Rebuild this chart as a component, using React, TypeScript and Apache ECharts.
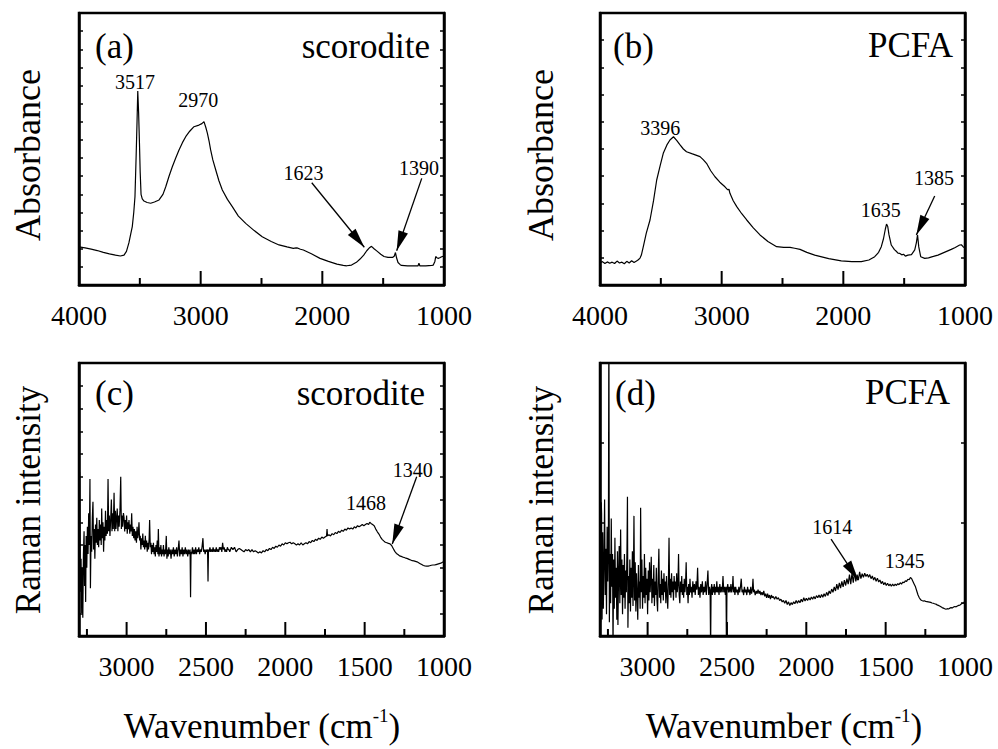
import React, { useEffect, useRef } from 'react';
import * as echarts from 'echarts';

const FONT = 'Liberation Serif';

// ---------------- axis ticks ----------------
const ftirMajorTicks = [4000, 3000, 2000, 1000];
const ftirMinorTicks = [3500, 2500, 1500];
const ramanMajorTicks = [3000, 2500, 2000, 1500, 1000];
const ramanMinorTicks = [3250, 2750, 2250, 1750, 1250];
const ramanPcfaYTicks = [0.121, 0.414, 0.707];

// ---------------- (a) FTIR scorodite: [wavenumber, absorbance a.u.] ----------------
const ftirScorodite: [number, number][] = [
  [4000, 0.21], [3950, 0.205], [3900, 0.198], [3850, 0.19], [3800, 0.18], [3750, 0.172], [3700, 0.165],
  [3660, 0.16], [3630, 0.165], [3610, 0.185], [3590, 0.232], [3575, 0.28], [3562, 0.322], [3550, 0.40],
  [3540, 0.487], [3530, 0.72], [3523, 0.90], [3517, 1.07], [3510, 0.95], [3503, 0.78], [3497, 0.62],
  [3490, 0.50], [3480, 0.475], [3466, 0.463], [3440, 0.455], [3411, 0.451], [3380, 0.458], [3342, 0.469],
  [3310, 0.50], [3287, 0.542], [3260, 0.60], [3233, 0.652], [3205, 0.70], [3178, 0.745], [3150, 0.785],
  [3123, 0.818], [3090, 0.848], [3055, 0.873], [3014, 0.882], [2990, 0.89], [2973, 0.901], [2958, 0.87],
  [2945, 0.838], [2930, 0.79], [2918, 0.745], [2900, 0.69], [2876, 0.634], [2850, 0.575], [2822, 0.524],
  [2780, 0.472], [2740, 0.432], [2690, 0.38], [2630, 0.34], [2560, 0.30], [2494, 0.266], [2420, 0.24],
  [2356, 0.221], [2290, 0.21], [2239, 0.202], [2215, 0.205], [2200, 0.203], [2180, 0.197], [2156, 0.193],
  [2090, 0.172], [2019, 0.147], [1950, 0.13], [1880, 0.115], [1828, 0.108], [1800, 0.106], [1760, 0.11],
  [1720, 0.125], [1690, 0.143], [1660, 0.165], [1635, 0.189], [1610, 0.207], [1596, 0.213], [1575, 0.2],
  [1553, 0.188], [1520, 0.17], [1493, 0.157], [1460, 0.152], [1423, 0.152], [1408, 0.16], [1399, 0.179],
  [1390, 0.15], [1378, 0.124], [1360, 0.112], [1349, 0.108], [1300, 0.106], [1250, 0.105], [1214, 0.105],
  [1206, 0.12], [1198, 0.105], [1150, 0.106], [1100, 0.108], [1088, 0.11], [1075, 0.13], [1068, 0.157],
  [1058, 0.15], [1047, 0.147], [1035, 0.15], [1019, 0.156], [1000, 0.16],
];
const ftirScoroditePeaks: [string, number, number][] = [
  ['3517', 3540, 1.12], ['2970', 3020, 1.02], ['1623', 2155, 0.616], ['1390', 1205, 0.644],
];
const ftirScoroditeArrows: [number, number, number, number][] = [
  [2087, 0.564, 1655, 0.208], [1183, 0.588, 1389, 0.189],
];

// ---------------- (b) FTIR PCFA ----------------
const ftirPcfa: [number, number][] = [
  [4000, 0.082], [3980, 0.086], [3960, 0.079], [3940, 0.085], [3920, 0.080], [3900, 0.084], [3880, 0.079],
  [3860, 0.088], [3840, 0.081], [3820, 0.084], [3800, 0.078], [3780, 0.087], [3760, 0.081], [3740, 0.089],
  [3720, 0.083], [3700, 0.088], [3685, 0.093], [3671, 0.099], [3660, 0.11], [3644, 0.141], [3620, 0.19],
  [3589, 0.239], [3560, 0.31], [3534, 0.386], [3505, 0.44], [3480, 0.484], [3450, 0.515], [3425, 0.533],
  [3396, 0.545], [3370, 0.532], [3342, 0.515], [3315, 0.50], [3289, 0.49], [3240, 0.482], [3178, 0.472],
  [3150, 0.46], [3121, 0.445], [3090, 0.42], [3055, 0.398], [3015, 0.378], [2973, 0.361], [2950, 0.35],
  [2940, 0.352], [2932, 0.337], [2905, 0.31], [2876, 0.288], [2835, 0.262], [2794, 0.239], [2740, 0.21],
  [2685, 0.184], [2620, 0.16], [2548, 0.141], [2490, 0.138], [2438, 0.138], [2400, 0.135], [2356, 0.131],
  [2300, 0.12], [2235, 0.11], [2120, 0.097], [2017, 0.089], [1930, 0.086], [1852, 0.086], [1790, 0.092],
  [1742, 0.104], [1710, 0.12], [1688, 0.141], [1670, 0.17], [1655, 0.205], [1645, 0.224], [1635, 0.215],
  [1625, 0.185], [1606, 0.147], [1580, 0.13], [1565, 0.124], [1551, 0.117], [1535, 0.116], [1520, 0.111],
  [1505, 0.113], [1490, 0.106], [1469, 0.11], [1440, 0.112], [1413, 0.129], [1400, 0.155], [1390, 0.184],
  [1380, 0.14], [1364, 0.104], [1331, 0.098], [1300, 0.1], [1260, 0.105], [1222, 0.11], [1170, 0.12],
  [1113, 0.131], [1080, 0.138], [1044, 0.147], [1030, 0.148], [1016, 0.141], [1000, 0.136],
];
const ftirPcfaPeaks: [string, number, number][] = [
  ['3396', 3505, 0.576], ['1635', 1693, 0.276], ['1385', 1255, 0.392],
];
const ftirPcfaArrows: [number, number, number, number][] = [[1249, 0.327, 1400, 0.184]];

// ---------------- (c) Raman scorodite ----------------
const ramanScorodite: [number, number][] = [
  [3300, 0.60], [3296, 0.72], [3293, 0.38], [3290, 0.20], [3287, 0.34], [3283, 0.10], [3280, 0.30],
  [3276, 0.08], [3272, 0.36], [3268, 0.46], [3265, 0.22], [3262, 0.40], [3258, 0.15], [3255, 0.44],
  [3251, 0.30], [3247, 0.48], [3243, 0.36], [3239, 0.54], [3235, 0.40], [3231, 0.69], [3228, 0.21],
  [3224, 0.44], [3220, 0.37], [3216, 0.52], [3212, 0.59], [3208, 0.38], [3204, 0.47], [3200, 0.34],
  [3196, 0.49], [3192, 0.41], [3188, 0.52], [3184, 0.40], [3180, 0.47], [3176, 0.39], [3172, 0.51],
  [3168, 0.42], [3164, 0.49], [3160, 0.40], [3157, 0.56], [3153, 0.43], [3149, 0.50], [3145, 0.37],
  [3141, 0.48], [3137, 0.42], [3133, 0.55], [3129, 0.44], [3125, 0.51], [3121, 0.45], [3117, 0.69],
  [3113, 0.46], [3109, 0.53], [3105, 0.44], [3100, 0.52], [3096, 0.60], [3092, 0.46], [3088, 0.54],
  [3084, 0.47], [3079, 0.63], [3075, 0.46], [3071, 0.55], [3067, 0.47], [3063, 0.52], [3059, 0.56],
  [3055, 0.46], [3051, 0.53], [3047, 0.48], [3042, 0.55], [3037, 0.70], [3033, 0.47], [3029, 0.53],
  [3025, 0.48], [3020, 0.54], [3016, 0.52], [3012, 0.46], [3008, 0.51], [3004, 0.47], [3000, 0.53],
  [2996, 0.45], [2992, 0.50], [2988, 0.47], [2985, 0.51], [2980, 0.45], [2976, 0.49], [2972, 0.46],
  [2968, 0.54], [2964, 0.44], [2960, 0.48], [2955, 0.43], [2951, 0.47], [2947, 0.42], [2943, 0.46],
  [2938, 0.41], [2934, 0.48], [2930, 0.43], [2926, 0.45], [2922, 0.50], [2918, 0.42], [2914, 0.44],
  [2910, 0.38], [2906, 0.43], [2902, 0.40], [2898, 0.45], [2894, 0.39], [2890, 0.42], [2886, 0.38],
  [2882, 0.44], [2878, 0.39], [2874, 0.42], [2870, 0.37], [2866, 0.41], [2862, 0.38], [2858, 0.43],
  [2855, 0.51], [2851, 0.39], [2847, 0.41], [2843, 0.36], [2839, 0.40], [2835, 0.37], [2831, 0.41],
  [2827, 0.36], [2823, 0.39], [2819, 0.35], [2815, 0.40], [2811, 0.37], [2807, 0.42], [2803, 0.36],
  [2800, 0.47], [2796, 0.35], [2792, 0.39], [2788, 0.36], [2784, 0.40], [2780, 0.35], [2776, 0.38],
  [2772, 0.36], [2768, 0.40], [2764, 0.35], [2760, 0.38], [2755, 0.36], [2750, 0.44], [2746, 0.34],
  [2742, 0.38], [2738, 0.35], [2734, 0.39], [2730, 0.36], [2725, 0.38], [2720, 0.34], [2715, 0.38],
  [2710, 0.36], [2705, 0.39], [2700, 0.35], [2695, 0.38], [2690, 0.36], [2685, 0.39], [2680, 0.35],
  [2675, 0.38], [2670, 0.42], [2665, 0.35], [2660, 0.38], [2655, 0.36], [2650, 0.39], [2645, 0.35],
  [2640, 0.38], [2635, 0.36], [2630, 0.39], [2625, 0.36], [2620, 0.38], [2615, 0.35], [2610, 0.38],
  [2605, 0.36], [2600, 0.38], [2597, 0.17], [2594, 0.37], [2590, 0.36], [2585, 0.39], [2580, 0.36],
  [2575, 0.38], [2570, 0.36], [2565, 0.39], [2560, 0.36], [2555, 0.38], [2550, 0.37], [2545, 0.39],
  [2540, 0.36], [2535, 0.38], [2530, 0.37], [2525, 0.39], [2519, 0.43], [2515, 0.37], [2510, 0.38],
  [2505, 0.36], [2500, 0.38], [2495, 0.37], [2490, 0.38], [2487, 0.24], [2484, 0.38], [2480, 0.37],
  [2475, 0.39], [2470, 0.37], [2465, 0.38], [2460, 0.37], [2455, 0.39], [2450, 0.37], [2445, 0.38],
  [2440, 0.37], [2435, 0.39], [2430, 0.37], [2425, 0.38], [2420, 0.37], [2415, 0.39], [2410, 0.38],
  [2405, 0.39], [2400, 0.37], [2395, 0.41], [2390, 0.38], [2385, 0.39], [2380, 0.37], [2375, 0.38],
  [2370, 0.37], [2365, 0.39], [2360, 0.38], [2355, 0.38], [2350, 0.37], [2340, 0.39], [2330, 0.38],
  [2320, 0.39], [2310, 0.37], [2300, 0.38], [2290, 0.385], [2280, 0.38], [2270, 0.375], [2260, 0.37],
  [2250, 0.38], [2240, 0.375], [2230, 0.38], [2220, 0.37], [2210, 0.38], [2200, 0.37], [2190, 0.375],
  [2180, 0.37], [2170, 0.365], [2160, 0.37], [2150, 0.365], [2140, 0.375], [2130, 0.37], [2120, 0.38],
  [2110, 0.375], [2100, 0.385], [2090, 0.38], [2080, 0.39], [2070, 0.385], [2060, 0.395], [2050, 0.39],
  [2040, 0.40], [2030, 0.395], [2020, 0.405], [2010, 0.40], [2000, 0.41], [1990, 0.405], [1980, 0.41],
  [1970, 0.412], [1960, 0.405], [1950, 0.41], [1940, 0.405], [1930, 0.40], [1920, 0.405], [1910, 0.40],
  [1900, 0.41], [1890, 0.40], [1880, 0.405], [1870, 0.41], [1860, 0.405], [1850, 0.415], [1840, 0.41],
  [1830, 0.42], [1820, 0.415], [1810, 0.425], [1800, 0.42], [1790, 0.43], [1780, 0.425], [1770, 0.435],
  [1760, 0.43], [1750, 0.435], [1740, 0.44], [1737, 0.47], [1734, 0.44], [1725, 0.445], [1715, 0.44],
  [1705, 0.45], [1695, 0.445], [1685, 0.455], [1675, 0.45], [1665, 0.46], [1655, 0.455], [1645, 0.465],
  [1635, 0.46], [1625, 0.47], [1615, 0.465], [1605, 0.475], [1595, 0.47], [1585, 0.475], [1575, 0.47],
  [1565, 0.48], [1555, 0.475], [1545, 0.485], [1535, 0.48], [1525, 0.485], [1515, 0.49], [1505, 0.485],
  [1495, 0.49], [1485, 0.495], [1475, 0.49], [1468, 0.50], [1460, 0.495], [1450, 0.49], [1440, 0.485],
  [1430, 0.47], [1420, 0.458], [1410, 0.448], [1400, 0.435], [1390, 0.425], [1380, 0.418], [1370, 0.412],
  [1360, 0.41], [1350, 0.407], [1340, 0.405], [1330, 0.398], [1320, 0.385], [1310, 0.372], [1300, 0.363],
  [1290, 0.358], [1280, 0.352], [1270, 0.35], [1260, 0.347], [1250, 0.345], [1240, 0.342], [1230, 0.34],
  [1220, 0.337], [1210, 0.334], [1200, 0.331], [1190, 0.33], [1180, 0.328], [1170, 0.326], [1160, 0.322],
  [1150, 0.318], [1140, 0.314], [1130, 0.31], [1120, 0.308], [1110, 0.307], [1100, 0.307], [1090, 0.309],
  [1080, 0.311], [1070, 0.312], [1060, 0.312], [1050, 0.314], [1040, 0.316], [1030, 0.318], [1020, 0.32],
  [1010, 0.324], [1000, 0.327],
];
const ramanScoroditePeaks: [string, number, number][] = [['1468', 1492, 0.583], ['1340', 1197, 0.73]];
const ramanScoroditeArrows: [number, number, number, number][] = [[1172, 0.7, 1326, 0.404]];

// ---------------- (d) Raman PCFA ----------------
const ramanPcfa: [number, number][] = [
  [3300, 0.30], [3296, 0.05], [3292, 0.49], [3290, 0.45], [3287, 0.06], [3283, 0.38], [3279, 0.10],
  [3275, 0.27], [3271, 0.50], [3267, 0.15], [3263, 0.32], [3259, 0.08], [3255, 0.40], [3251, 0.20],
  [3247, 0.35], [3244, 1.20], [3241, 0.05], [3237, 0.30], [3233, 0.12], [3229, 0.43], [3225, 0.18],
  [3221, 0.30], [3218, -0.05], [3214, 0.28], [3210, 0.10], [3206, 0.36], [3202, 0.14], [3198, 0.25],
  [3194, 0.06], [3190, 0.31], [3187, 0.04], [3183, 0.22], [3179, 0.33], [3175, 0.12], [3170, 0.39],
  [3166, 0.15], [3162, 0.28], [3158, 0.08], [3154, 0.26], [3150, 0.14], [3146, 0.30], [3142, 0.10],
  [3138, 0.24], [3134, 0.16], [3130, 0.32], [3127, 0.51], [3124, 0.03], [3120, 0.22], [3116, 0.12],
  [3112, 0.28], [3108, 0.09], [3104, 0.25], [3100, 0.14], [3096, 0.31], [3092, 0.11], [3089, 0.24],
  [3086, 0.44], [3082, 0.13], [3078, 0.27], [3074, 0.09], [3070, 0.23], [3066, 0.15], [3062, 0.06],
  [3058, 0.26], [3054, 0.14], [3050, 0.20], [3047, 0.10], [3044, 0.47], [3040, 0.16], [3036, 0.28],
  [3032, 0.10], [3028, 0.22], [3024, 0.14], [3020, 0.30], [3016, 0.12], [3012, 0.25], [3008, 0.15],
  [3004, 0.21], [3000, 0.08], [2996, 0.24], [2992, 0.13], [2988, 0.27], [2984, 0.16], [2980, 0.22],
  [2977, 0.29], [2973, 0.12], [2969, 0.21], [2965, 0.14], [2961, 0.26], [2957, 0.11], [2953, 0.20],
  [2949, 0.15], [2945, 0.25], [2941, 0.13], [2937, 0.09], [2933, 0.22], [2929, 0.32], [2925, 0.14],
  [2921, 0.19], [2917, 0.12], [2913, 0.24], [2909, 0.15], [2905, 0.21], [2901, 0.13], [2897, 0.23],
  [2893, 0.16], [2889, 0.20], [2885, 0.12], [2881, 0.22], [2877, 0.15], [2873, 0.10], [2869, 0.20],
  [2865, 0.36], [2861, 0.15], [2857, 0.21], [2853, 0.14], [2849, 0.23], [2845, 0.16], [2841, 0.20],
  [2837, 0.13], [2833, 0.22], [2829, 0.17], [2825, 0.20], [2821, 0.14], [2817, 0.23], [2813, 0.16],
  [2809, 0.19], [2805, 0.30], [2801, 0.15], [2797, 0.12], [2793, 0.20], [2789, 0.16], [2785, 0.22],
  [2781, 0.15], [2777, 0.19], [2773, 0.14], [2769, 0.21], [2765, 0.16], [2761, 0.19], [2757, 0.27],
  [2753, 0.15], [2749, 0.18], [2745, 0.12], [2741, 0.19], [2737, 0.15], [2733, 0.21], [2729, 0.16],
  [2725, 0.18], [2720, 0.14], [2715, 0.20], [2710, 0.16], [2705, 0.19], [2700, 0.15], [2695, 0.20],
  [2690, 0.17], [2685, 0.25], [2680, 0.15], [2675, 0.18], [2670, 0.14], [2665, 0.19], [2660, 0.16],
  [2655, 0.20], [2650, 0.15], [2645, 0.18], [2640, 0.16], [2635, 0.20], [2630, 0.15], [2625, 0.19],
  [2620, 0.24], [2615, 0.15], [2610, 0.18], [2606, 0.16], [2603, -0.05], [2600, 0.17], [2596, 0.19],
  [2592, 0.15], [2588, 0.18], [2584, 0.16], [2580, 0.19], [2576, 0.15], [2572, 0.18], [2568, 0.16],
  [2564, 0.20], [2560, 0.16], [2555, 0.18], [2550, 0.15], [2545, 0.19], [2540, 0.16], [2535, 0.18],
  [2530, 0.16], [2525, 0.22], [2520, 0.16], [2515, 0.18], [2510, 0.15], [2506, 0.18], [2503, -0.05],
  [2500, 0.17], [2495, 0.19], [2490, 0.16], [2485, 0.18], [2480, 0.16], [2475, 0.19], [2470, 0.16],
  [2465, 0.18], [2462, 0.22], [2458, 0.16], [2454, 0.18], [2450, 0.15], [2445, 0.18], [2440, 0.16],
  [2435, 0.17], [2430, 0.15], [2425, 0.18], [2420, 0.16], [2415, 0.18], [2410, 0.21], [2405, 0.16],
  [2400, 0.17], [2395, 0.15], [2390, 0.18], [2385, 0.16], [2380, 0.17], [2375, 0.15], [2370, 0.18],
  [2365, 0.16], [2360, 0.17], [2355, 0.15], [2350, 0.18], [2345, 0.155], [2340, 0.17], [2336, 0.21],
  [2332, 0.16], [2328, 0.17], [2322, 0.15], [2316, 0.165], [2310, 0.155], [2304, 0.17], [2298, 0.155],
  [2292, 0.165], [2286, 0.15], [2280, 0.16], [2274, 0.15], [2268, 0.165], [2262, 0.145], [2256, 0.155],
  [2250, 0.14], [2244, 0.155], [2238, 0.14], [2232, 0.15], [2226, 0.135], [2220, 0.15], [2214, 0.14],
  [2208, 0.145], [2200, 0.135], [2192, 0.145], [2184, 0.135], [2176, 0.14], [2168, 0.13], [2160, 0.135],
  [2152, 0.125], [2144, 0.13], [2136, 0.12], [2128, 0.13], [2120, 0.115], [2112, 0.125], [2104, 0.112],
  [2096, 0.122], [2088, 0.115], [2080, 0.125], [2072, 0.118], [2064, 0.13], [2056, 0.12], [2048, 0.13],
  [2040, 0.122], [2032, 0.135], [2024, 0.125], [2016, 0.14], [2008, 0.128], [2000, 0.138], [1992, 0.13],
  [1984, 0.14], [1976, 0.132], [1968, 0.143], [1960, 0.135], [1952, 0.145], [1944, 0.136], [1936, 0.148],
  [1928, 0.14], [1920, 0.15], [1912, 0.14], [1904, 0.152], [1896, 0.142], [1888, 0.155], [1880, 0.145],
  [1872, 0.16], [1864, 0.148], [1856, 0.165], [1848, 0.155], [1840, 0.172], [1832, 0.16], [1824, 0.18],
  [1816, 0.165], [1808, 0.19], [1800, 0.17], [1792, 0.195], [1784, 0.175], [1776, 0.2], [1768, 0.18],
  [1760, 0.205], [1752, 0.185], [1744, 0.21], [1736, 0.19], [1728, 0.225], [1720, 0.19], [1712, 0.23],
  [1704, 0.195], [1696, 0.235], [1688, 0.2], [1680, 0.225], [1672, 0.205], [1664, 0.235], [1656, 0.21],
  [1648, 0.228], [1640, 0.215], [1632, 0.23], [1624, 0.218], [1616, 0.226], [1608, 0.215], [1600, 0.225],
  [1592, 0.21], [1584, 0.22], [1576, 0.205], [1568, 0.215], [1560, 0.2], [1552, 0.212], [1544, 0.198],
  [1536, 0.205], [1528, 0.192], [1520, 0.2], [1512, 0.188], [1504, 0.196], [1496, 0.185], [1488, 0.193],
  [1480, 0.184], [1472, 0.19], [1464, 0.182], [1456, 0.19], [1448, 0.183], [1440, 0.19], [1432, 0.185],
  [1424, 0.192], [1416, 0.188], [1408, 0.195], [1400, 0.19], [1392, 0.198], [1384, 0.195], [1376, 0.202],
  [1368, 0.2], [1360, 0.208], [1352, 0.206], [1344, 0.214], [1336, 0.21], [1328, 0.2], [1320, 0.19],
  [1312, 0.18], [1304, 0.165], [1296, 0.15], [1288, 0.14], [1280, 0.133], [1272, 0.13], [1264, 0.128],
  [1256, 0.129], [1248, 0.127], [1240, 0.126], [1232, 0.125], [1224, 0.124], [1216, 0.123], [1208, 0.121],
  [1200, 0.12], [1192, 0.118], [1184, 0.117], [1176, 0.114], [1168, 0.112], [1160, 0.11], [1152, 0.107],
  [1144, 0.104], [1136, 0.102], [1128, 0.1], [1120, 0.098], [1112, 0.1], [1104, 0.099], [1096, 0.102],
  [1088, 0.104], [1080, 0.103], [1072, 0.106], [1064, 0.108], [1056, 0.107], [1048, 0.11], [1040, 0.112],
  [1032, 0.113], [1024, 0.117], [1016, 0.12], [1008, 0.121], [1000, 0.13],
];
const ramanPcfaPeaks: [string, number, number][] = [['1614', 1836, 0.398], ['1345', 1380, 0.276]];
const ramanPcfaArrows: [number, number, number, number][] = [[1844, 0.355, 1674, 0.205]];

type Panel = {
  grid: { left: number; top: number; width: number; height: number };
  xMin: number; xMax: number; major: number[]; minor: number[];
  yMax: number; yInterval?: number; yTicks?: number[];
  data: [number, number][];
  peaks: [string, number, number][];
  arrows: [number, number, number, number][];
};

const panels: Panel[] = [
  { grid: { left: 79, top: 13, width: 365, height: 272 }, xMin: 1000, xMax: 4000, major: ftirMajorTicks, minor: ftirMinorTicks, yMax: 1.5, yInterval: 0.1, data: ftirScorodite, peaks: ftirScoroditePeaks, arrows: ftirScoroditeArrows },
  { grid: { left: 600, top: 13, width: 365, height: 272 }, xMin: 1000, xMax: 4000, major: ftirMajorTicks, minor: ftirMinorTicks, yMax: 1.0, yInterval: 0.1, data: ftirPcfa, peaks: ftirPcfaPeaks, arrows: ftirPcfaArrows },
  { grid: { left: 79, top: 363, width: 365, height: 273 }, xMin: 1000, xMax: 3300, major: ramanMajorTicks, minor: ramanMinorTicks, yMax: 1.2, yInterval: 0.1, data: ramanScorodite, peaks: ramanScoroditePeaks, arrows: ramanScoroditeArrows },
  { grid: { left: 600, top: 363, width: 365, height: 273 }, xMin: 1000, xMax: 3300, major: ramanMajorTicks, minor: ramanMinorTicks, yMax: 1.0, yTicks: ramanPcfaYTicks, data: ramanPcfa, peaks: ramanPcfaPeaks, arrows: ramanPcfaArrows },
];

const BLACK_LINE = { show: true, onZero: false, lineStyle: { color: '#000', width: 2.5 } };

const txt = (id: string, text: string, x: number, y: number, align: string, size = 35, rotation = 0) => ({
  id, type: 'text', x, y, rotation, z: 100,
  style: { text, x: 0, y: 0, fill: '#000', fontSize: size, fontFamily: FONT, textAlign: align, align, textVerticalAlign: 'middle', verticalAlign: 'middle' },
});
const wave = (id: string, x: number, y: number) => ({
  id, type: 'text', x, y, z: 100,
  style: {
    text: '{t|Wavenumber (cm}{s|-1}{t|)}', x: 0, y: 0, fill: '#000', textAlign: 'center', align: 'center',
    textVerticalAlign: 'middle', verticalAlign: 'middle',
    rich: {
      t: { fontSize: 35, fontFamily: FONT, fill: '#000', color: '#000', lineHeight: 40 },
      s: { fontSize: 19, fontFamily: FONT, fill: '#000', color: '#000', verticalAlign: 'top', lineHeight: 40 },
    },
  },
});

function baseGraphic(): any[] {
  return [
    txt('la', '(a)', 95, 46, 'left'), txt('na', 'scorodite', 430, 46, 'right'),
    txt('lb', '(b)', 613, 46, 'left'), txt('nb', 'PCFA', 953, 45, 'right'),
    txt('lc', '(c)', 95, 393, 'left'), txt('nc', 'scorodite', 425, 393, 'right'),
    txt('ld', '(d)', 615, 393, 'left'), txt('nd', 'PCFA', 950, 392, 'right'),
    txt('ya', 'Absorbance', 28, 155, 'center', 36, Math.PI / 2),
    txt('yb', 'Absorbance', 541, 155, 'center', 36, Math.PI / 2),
    txt('yc', 'Raman intensity', 28, 500, 'center', 35, Math.PI / 2),
    txt('yd', 'Raman intensity', 541, 500, 'center', 35, Math.PI / 2),
    wave('wc', 262, 726), wave('wd', 784, 726),
  ];
}

function buildOption(): any {
  const grid: any[] = [];
  const xAxis: any[] = [];
  const yAxis: any[] = [];
  const series: any[] = [];
  panels.forEach((p, i) => {
    grid.push({ ...p.grid, show: true, borderWidth: 2.5, borderColor: '#000', z: 0 });
    xAxis.push({
      gridIndex: i, type: 'value', min: p.xMin, max: p.xMax, inverse: true, position: 'bottom', z: 8,
      axisLine: BLACK_LINE, splitLine: { show: false },
      axisTick: { show: false }, minorTick: { show: false }, axisLabel: { show: false },
    });
    ['left', 'right'].forEach((pos) => {
      const tick: any = { show: true, inside: true, length: 4, lineStyle: { color: '#000', width: 1.5 } };
      if (p.yTicks) tick.customValues = p.yTicks;
      yAxis.push({
        gridIndex: i, type: 'value', min: 0, max: p.yMax, position: pos, z: 5,
        ...(p.yInterval ? { interval: p.yInterval } : {}),
        axisLine: BLACK_LINE, splitLine: { show: false }, axisLabel: { show: false },
        axisTick: tick,
      });
    });

    const arrowLines = p.arrows.map((a) => [
      { coord: [a[0], a[1]], symbol: 'none' },
      { coord: [a[2], a[3]], symbol: 'triangle', symbolSize: [10, 20], symbolOffset: [0, 10] },
    ]);
    const tickLabels = p.major.map((v) => ({
      name: String(v), coord: [v, 0],
      label: { fontSize: 28, offset: [0, 30] },
    }));

    series.push({
      type: 'line', xAxisIndex: i, yAxisIndex: 2 * i, data: p.data, showSymbol: false, symbol: 'none',
      clip: true, silent: true, z: 3,
      lineStyle: { color: '#000', width: 1.2 },
      markPoint: {
        silent: true, symbol: 'circle', symbolSize: 1, itemStyle: { color: 'rgba(0,0,0,0)' },
        label: { show: true, position: 'inside', formatter: '{b}', color: '#000', fontSize: 20, fontFamily: FONT },
        data: [...p.peaks.map((pk) => ({ name: pk[0], coord: [pk[1], pk[2]] })), ...tickLabels],
      },
      markLine: {
        silent: true, symbol: ['none', 'triangle'], symbolSize: 16,
        lineStyle: { color: '#000', width: 1.3, type: 'solid' }, label: { show: false },
        data: arrowLines,
      },
    });
  });

  return {
    animation: false, backgroundColor: '#fff', textStyle: { fontFamily: FONT },
    grid, xAxis, yAxis, series, graphic: baseGraphic(),
  };
}

// x-axis tick marks: positions come from the chart's own scales (convertToPixel)
function tickGraphic(chart: any): any[] {
  const out: any[] = [];
  panels.forEach((p, i) => {
    const finder = { xAxisIndex: i, yAxisIndex: 2 * i };
    const inner = (v: number) => v > p.xMin && v < p.xMax;
    const specs: [number, number][] = [
      ...p.major.filter(inner).map((v) => [v, 14] as [number, number]),
      ...p.minor.filter(inner).map((v) => [v, 7] as [number, number]),
    ];
    specs.forEach(([v, len], k) => {
      const pt = chart.convertToPixel(finder, [v, 0]);
      if (!pt) return;
      out.push({
        id: `tick-${i}-${k}`, type: 'rect', z: 120,
        shape: { x: pt[0] - 1, y: pt[1] - len, width: 2, height: len },
        style: { fill: '#000' }, silent: true,
      });
    });
  });
  return out;
}

export default function App() {
  const ref = useRef<HTMLDivElement>(null);
  useEffect(() => {
    if (!ref.current) return;
    const chart = echarts.init(ref.current, null, { renderer: 'svg' });
    chart.setOption(buildOption());
    chart.setOption({ graphic: [...baseGraphic(), ...tickGraphic(chart)] });
    return () => chart.dispose();
  }, []);
  return <div ref={ref} style={{ position: 'fixed', left: 0, top: 0, width: 998, height: 749, background: '#fff' }} />;
}
